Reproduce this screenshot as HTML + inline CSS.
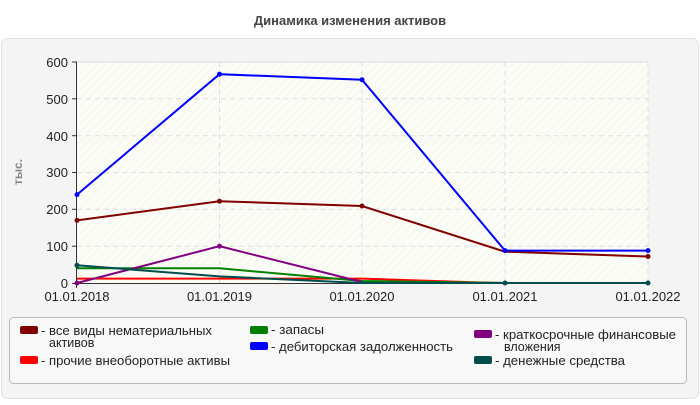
<!DOCTYPE html>
<html><head><meta charset="utf-8"><style>
body{margin:0;width:700px;height:400px;background:#fff;font-family:"Liberation Sans",sans-serif;overflow:hidden}
</style></head><body>
<svg width="700" height="400" xmlns="http://www.w3.org/2000/svg" font-family="Liberation Sans, sans-serif">
<defs><pattern id="h" width="6" height="6" patternUnits="userSpaceOnUse" patternTransform="rotate(45)"><rect width="6" height="6" fill="#fcfcf6"/><line x1="0" y1="0" x2="0" y2="6" stroke="#eeeeea" stroke-width="1"/></pattern></defs>
<text x="350" y="25" text-anchor="middle" font-size="13" font-weight="bold" fill="#444">Динамика изменения активов</text>
<rect x="1.5" y="38.5" width="697" height="360" rx="6" fill="#f4f4f4" stroke="#e0e0e0"/>
<rect x="77" y="62" width="571" height="221" fill="url(#h)"/>
<g stroke="#ddd" stroke-dasharray="5,4">
<line x1="77" y1="98.8" x2="648" y2="98.8"/><line x1="77" y1="135.7" x2="648" y2="135.7"/><line x1="77" y1="172.5" x2="648" y2="172.5"/><line x1="77" y1="209.3" x2="648" y2="209.3"/><line x1="77" y1="246.2" x2="648" y2="246.2"/>
<line x1="219.5" y1="62" x2="219.5" y2="283"/><line x1="362" y1="62" x2="362" y2="283"/><line x1="505" y1="62" x2="505" y2="283"/><line x1="648" y1="62" x2="648" y2="283"/>
</g>
<line x1="77" y1="62" x2="648" y2="62" stroke="#ddd"/>
<line x1="76.5" y1="62" x2="76.5" y2="288" stroke="#333"/>
<line x1="72" y1="283.5" x2="648" y2="283.5" stroke="#333"/>
<g stroke="#333"><line x1="72" y1="62" x2="77" y2="62"/><line x1="72" y1="98.8" x2="77" y2="98.8"/><line x1="72" y1="135.7" x2="77" y2="135.7"/><line x1="72" y1="172.5" x2="77" y2="172.5"/><line x1="72" y1="209.3" x2="77" y2="209.3"/><line x1="72" y1="246.2" x2="77" y2="246.2"/></g>
<g font-size="13" fill="#222" text-anchor="end">
<text x="68" y="67">600</text><text x="68" y="104">500</text><text x="68" y="141">400</text><text x="68" y="177">300</text><text x="68" y="214">200</text><text x="68" y="251">100</text><text x="68" y="288">0</text></g>
<g font-size="13" fill="#222" text-anchor="middle">
<text x="77" y="301">01.01.2018</text><text x="219.5" y="301">01.01.2019</text><text x="362" y="301">01.01.2020</text><text x="505" y="301">01.01.2021</text><text x="648" y="301">01.01.2022</text></g>
<text transform="translate(22,172) rotate(-90)" text-anchor="middle" font-size="12" font-weight="bold" fill="#888">тыс.</text>
<g fill="none" stroke-width="2">
<polyline stroke="#ff0000" points="77,278.6 219.5,278.6 362,278.6 480,282.5 505,283"/>
<polyline stroke="#008000" points="77,268.3 219.5,268.3 362,281 505,283 648,283"/>
<polyline stroke="#800080" points="77,283 219.5,246.2 362,282"/>
<polyline stroke="#004d4d" points="77,265.3 219.5,276.4 362,283 505,283 648,283"/>
<polyline stroke="#800000" points="77,220.4 219.5,201.2 362,206 505,251.7 648,256.5"/>
<polyline stroke="#0000ff" points="77,194.6 219.5,74.2 362,79.7 505,250.6 648,250.6"/>
</g>
<g>
<g fill="#0000ff"><circle cx="77" cy="194.6" r="2.5"/><circle cx="219.5" cy="74.2" r="2.5"/><circle cx="362" cy="79.7" r="2.5"/><circle cx="505" cy="250.6" r="2.5"/><circle cx="648" cy="250.6" r="2.5"/></g>
<g fill="#800000"><circle cx="77" cy="220.4" r="2.5"/><circle cx="219.5" cy="201.2" r="2.5"/><circle cx="362" cy="206" r="2.5"/><circle cx="648" cy="256.5" r="2.5"/></g>
<g fill="#800080"><circle cx="77" cy="283" r="2.5"/><circle cx="219.5" cy="246.2" r="2.5"/></g>
<g fill="#004d4d"><circle cx="505" cy="283" r="2.5"/><circle cx="648" cy="283" r="2.5"/><circle cx="77" cy="265.3" r="2.5"/></g>
</g>
<rect x="9.5" y="317.5" width="677" height="66" rx="4" fill="#f8f8f8" stroke="#bbb"/>
<g font-size="12.5" fill="#222">
<rect x="20" y="326" width="18" height="8" rx="2" fill="#800000"/><text x="41" y="335" textLength="171" lengthAdjust="spacingAndGlyphs">- все виды нематериальных</text><text x="49" y="347">активов</text>
<rect x="20" y="356" width="18" height="8" rx="2" fill="#ff0000"/><text x="41" y="365" textLength="189" lengthAdjust="spacingAndGlyphs">- прочие внеоборотные активы</text>
<rect x="250" y="326" width="18" height="8" rx="2" fill="#008000"/><text x="271" y="334" textLength="53" lengthAdjust="spacingAndGlyphs">- запасы</text>
<rect x="250" y="342" width="18" height="8" rx="2" fill="#0000ff"/><text x="271" y="351" textLength="182" lengthAdjust="spacingAndGlyphs">- дебиторская задолженность</text>
<rect x="474" y="330" width="18" height="8" rx="2" fill="#800080"/><text x="495" y="339" textLength="181" lengthAdjust="spacingAndGlyphs">- краткосрочные финансовые</text><text x="504" y="351">вложения</text>
<rect x="474" y="356" width="18" height="8" rx="2" fill="#004d4d"/><text x="495" y="365" textLength="130" lengthAdjust="spacingAndGlyphs">- денежные средства</text>
</g>
</svg>
</body></html>
